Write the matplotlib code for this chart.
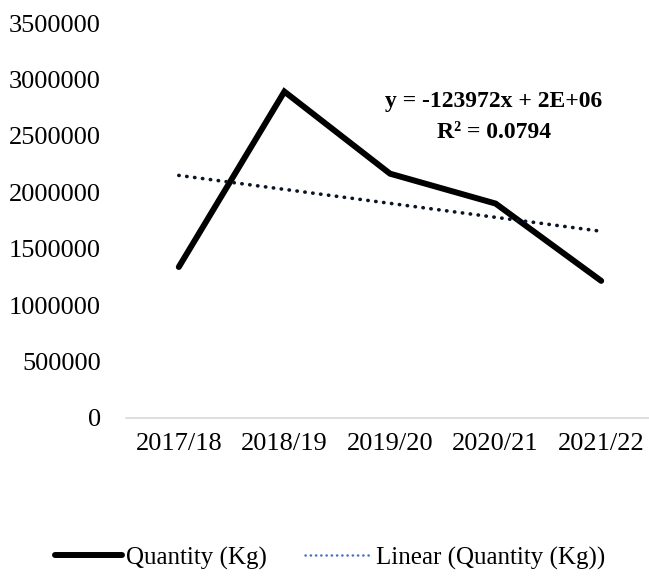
import matplotlib.pyplot as plt
import numpy as np
from matplotlib.lines import Line2D

# data
years = ['2017/18', '2018/19', '2019/20', '2020/21', '2021/22']
quantity = [1338000, 2892000, 2165000, 1900000, 1215000]
y_ticks = [0, 500000, 1000000, 1500000, 2000000, 2500000, 3000000, 3500000]

plt.rcParams['font.family'] = ['Liberation Serif', 'DejaVu Serif']
plt.rcParams['font.size'] = 19

x = np.arange(1, len(years) + 1)
# linear trend, as Excel does it
slope, intercept = np.polyfit(x, quantity, 1)
trend = slope * x + intercept

fig = plt.figure(figsize=(6.49, 5.83), dpi=100)
ax = fig.add_axes([126 / 649, 165 / 583, 528 / 649, 395 / 583])

ax.plot(x, quantity, color='black', linewidth=4.3, solid_joinstyle='miter',
        solid_capstyle='round')
ax.plot(x, trend, color='#0b1326', linewidth=2.6, linestyle=(0, (0.1, 2.1)),
        dash_capstyle='round')

ax.set_xlim(0.5, len(years) + 0.5)
ax.set_ylim(0, 3500000)
ax.set_xticks(x)
ax.set_xticklabels(years)
ax.set_yticks(y_ticks)
ax.set_yticklabels([str(v) for v in y_ticks])
ax.tick_params(axis='both', length=0)
ax.tick_params(axis='y', pad=18)
ax.tick_params(axis='x', pad=11)

for s in ['top', 'right', 'left']:
    ax.spines[s].set_visible(False)
ax.spines['bottom'].set_color('#d9d9d9')
ax.spines['bottom'].set_linewidth(1.2)

# equation label
fig.text(494 / 649, 1 - 102 / 583, 'y = -123972x + 2E+06', ha='center',
         va='center', fontweight='bold', fontsize=17)
fig.text(494 / 649, 1 - 133 / 583, 'R² = 0.0794', ha='center',
         va='center', fontweight='bold', fontsize=17)

handles = [
    Line2D([], [], color='black', linewidth=4.3, solid_capstyle='round'),
    Line2D([], [], color='#4472c4', linewidth=1.8, linestyle=(0, (0.1, 2.0)),
           dash_capstyle='round'),
]
fig.legend(handles, ['Quantity (Kg)', 'Linear (Quantity (Kg))'],
           loc='center', bbox_to_anchor=(330 / 649, 1 - 558 / 583), ncol=2,
           frameon=False, handlelength=2.7, handletextpad=0.15,
           columnspacing=1.5, fontsize=18)

plt.savefig('out.png', dpi=100)
